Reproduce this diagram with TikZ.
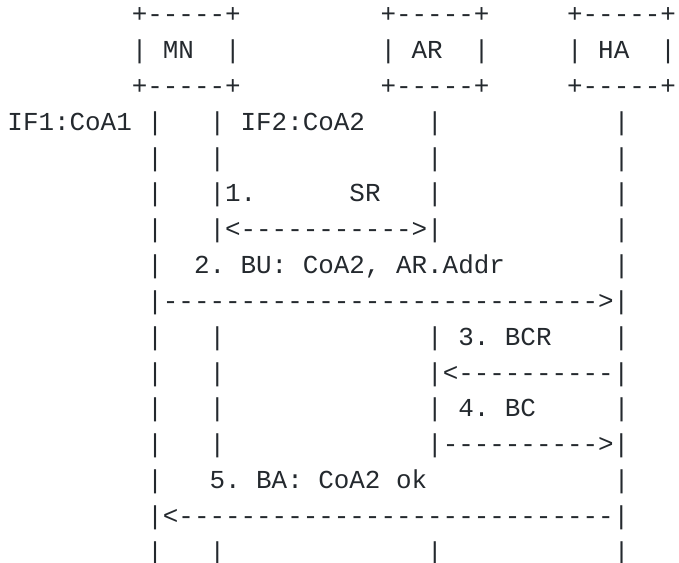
\documentclass[tikz,border=0pt]{standalone}
\usepackage{fontspec}
\setmonofont{Liberation Mono}
\usepackage{xcolor}
\usepackage{tikz}
\definecolor{asciiInk}{HTML}{24292E}
\tikzset{
  asciirow/.style={
    anchor=base west,
    inner sep=0pt,
    text=asciiInk,
    font=\ttfamily\fontsize{19.43}{26}\selectfont
  }
}

\begin{document}
\begin{tikzpicture}[x=0.75pt,y=0.75pt]
  \useasboundingbox (0,0) rectangle (679,-563);
  \node[asciirow] (row1) at (7.2,-23.0) {~~~~~~~~+-----+~~~~~~~~~+-----+~~~~~+-----+};
  \node[asciirow] (row2) at (7.2,-58.8) {~~~~~~~~|~MN~~|~~~~~~~~~|~AR~~|~~~~~|~HA~~|};
  \node[asciirow] (row3) at (7.2,-94.6) {~~~~~~~~+-----+~~~~~~~~~+-----+~~~~~+-----+};
  \node[asciirow] (row4) at (7.2,-130.4) {IF1:CoA1~|~~~|~IF2:CoA2~~~~|~~~~~~~~~~~|};
  \node[asciirow] (row5) at (7.2,-166.2) {~~~~~~~~~|~~~|~~~~~~~~~~~~~|~~~~~~~~~~~|};
  \node[asciirow] (row6) at (7.2,-202.0) {~~~~~~~~~|~~~|1.~~~~~~SR~~~|~~~~~~~~~~~|};
  \node[asciirow] (row7) at (7.2,-237.8) {~~~~~~~~~|~~~|<----------->|~~~~~~~~~~~|};
  \node[asciirow] (row8) at (7.2,-273.6) {~~~~~~~~~|~~2.~BU:~CoA2,~AR.Addr~~~~~~~|};
  \node[asciirow] (row9) at (7.2,-309.4) {~~~~~~~~~|---------------------------->|};
  \node[asciirow] (row10) at (7.2,-345.2) {~~~~~~~~~|~~~|~~~~~~~~~~~~~|~3.~BCR~~~~|};
  \node[asciirow] (row11) at (7.2,-381.0) {~~~~~~~~~|~~~|~~~~~~~~~~~~~|<----------|};
  \node[asciirow] (row12) at (7.2,-416.8) {~~~~~~~~~|~~~|~~~~~~~~~~~~~|~4.~BC~~~~~|};
  \node[asciirow] (row13) at (7.2,-452.6) {~~~~~~~~~|~~~|~~~~~~~~~~~~~|---------->|};
  \node[asciirow] (row14) at (7.2,-488.4) {~~~~~~~~~|~~~5.~BA:~CoA2~ok~~~~~~~~~~~~|};
  \node[asciirow] (row15) at (7.2,-524.2) {~~~~~~~~~|<----------------------------|};
  \node[asciirow] (row16) at (7.2,-560.0) {~~~~~~~~~|~~~|~~~~~~~~~~~~~|~~~~~~~~~~~|};
\end{tikzpicture}
\end{document}
